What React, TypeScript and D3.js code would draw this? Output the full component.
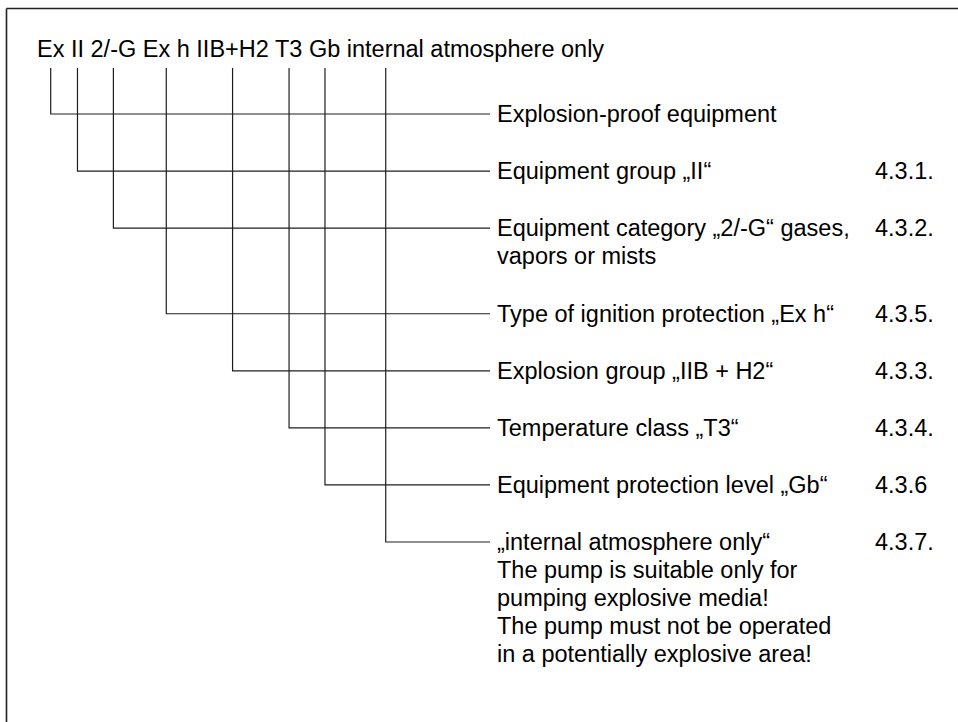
import React, { useMemo } from "react";
import * as d3 from "d3";

// ---- data ----
const codeSegments = ["Ex", "II", "2/-G", "Ex h", "IIB+H2", "T3", "Gb", "internal atmosphere only"];
const dropAnchors = ["Ex", "II", "2/-G", "Ex h", "IIB+H2", "T3", "Gb", "internal"];
const descriptions: string[][] = [
  ["Explosion-proof equipment"],
  ["Equipment group \u201EII\u201C"],
  ["Equipment category \u201E2/-G\u201C gases,", "vapors or mists"],
  ["Type of ignition protection \u201EEx h\u201C"],
  ["Explosion group \u201EIIB + H2\u201C"],
  ["Temperature class \u201ET3\u201C"],
  ["Equipment protection level \u201EGb\u201C"],
  [
    "\u201Einternal atmosphere only\u201C",
    "The pump is suitable only for",
    "pumping explosive media!",
    "The pump must not be operated",
    "in a potentially explosive area!",
  ],
];
const sections = ["", "4.3.1.", "4.3.2.", "4.3.5.", "4.3.3.", "4.3.4.", "4.3.6", "4.3.7."];

const W = 958;
const H = 722;
const FONT = "'Liberation Sans', Arial, sans-serif";
const FS = 23.5;

let ctx: CanvasRenderingContext2D | null = null;
function measure(s: string): number {
  if (!ctx) {
    const c = document.createElement("canvas");
    ctx = c.getContext("2d");
  }
  if (!ctx) return s.length * FS * 0.5;
  ctx.font = `${FS}px ${FONT}`;
  return ctx.measureText(s).width;
}

export default function App() {
  const title = codeSegments.join(" ");
  const titleX = 37;
  const titleY = 57;
  const dropTop = 68;
  const labelX = 497;
  const lineEnd = 490;
  const sectionX = 875;
  const lineH = 28;

  // slot index per row: one unit per row plus half a unit per extra text line above
  const slots = useMemo(() => {
    const out: number[] = [];
    let acc = 0;
    descriptions.forEach((d, i) => {
      out.push(acc);
      acc += 1 + (d.length > 1 && i < descriptions.length - 1 ? 0.5 * (d.length - 1) : 0);
    });
    return out;
  }, []);

  const y = d3.scaleLinear().domain([0, slots[slots.length - 1]]).range([114, 542]);

  const dropX = dropAnchors.map((a) => {
    const idx = title.indexOf(a);
    return titleX + measure(title.slice(0, idx)) + measure(a) / 2;
  });

  const stroke = "#1e1e1e";

  return (
    <svg
      width={W}
      height={H}
      style={{ position: "fixed", left: 0, top: 0, background: "#fff" }}
      fontFamily={FONT}
    >
      <rect x={0} y={0} width={W} height={H} fill="#fff" />
      {/* frame */}
      <line x1={6.5} y1={8.5} x2={W} y2={8.5} stroke="#222" strokeWidth={1.6} />
      <line x1={6.5} y1={8.5} x2={6.5} y2={H} stroke="#222" strokeWidth={1.6} />

      <text x={titleX} y={titleY} fontSize={FS} fill="#000">
        {title}
      </text>

      {descriptions.map((d, i) => {
        const yy = y(slots[i]);
        const x0 = dropX[i];
        return (
          <g key={i}>
            <path
              d={`M${x0},${dropTop}V${yy}H${lineEnd}`}
              fill="none"
              stroke={stroke}
              strokeWidth={1.2}
            />
            <text x={labelX} y={yy + 8} fontSize={FS} fill="#000">
              {d.map((line, j) => (
                <tspan key={j} x={labelX} dy={j === 0 ? 0 : lineH}>
                  {line}
                </tspan>
              ))}
            </text>
            {sections[i] && (
              <text x={sectionX} y={yy + 8} fontSize={FS} fill="#000">
                {sections[i]}
              </text>
            )}
          </g>
        );
      })}
    </svg>
  );
}
